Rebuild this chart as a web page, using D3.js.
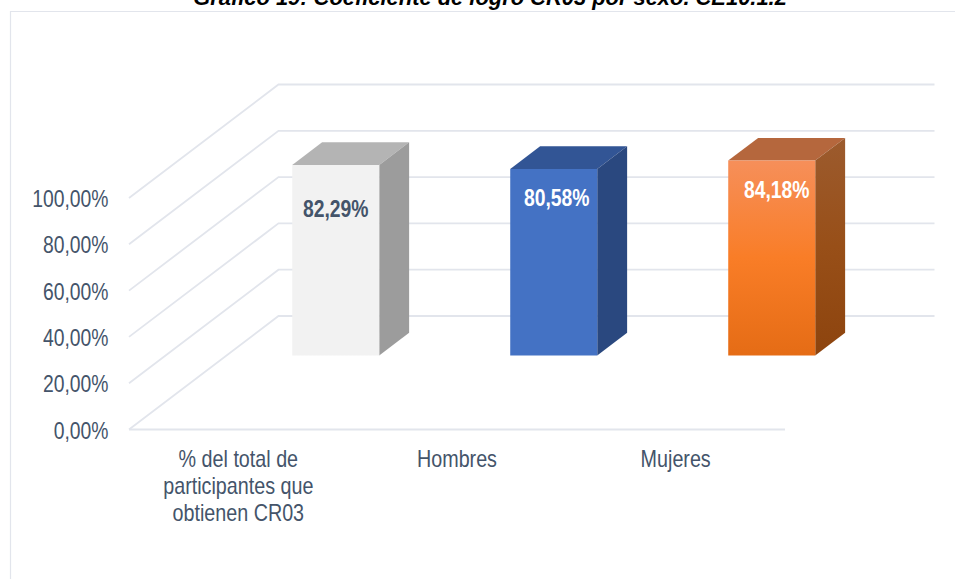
<!DOCTYPE html>
<html><head><meta charset="utf-8">
<script src="https://cdn.jsdelivr.net/npm/d3@7"></script>
<style>html,body{margin:0;padding:0;background:#fff}svg{display:block}</style>
</head><body><svg id="c" width="955" height="579"></svg>
<script>
const titleText = "Gráfico 19: Coeficiente de logro CR03 por sexo. CE10.1.2";
const categories = ["% del total de|participantes que|obtienen CR03", "Hombres", "Mujeres"];
const values = [82.29, 80.58, 84.18];
const valueLabels = ["82,29%", "80,58%", "84,18%"];
const ticks = [0, 20, 40, 60, 80, 100];
const tickLabels = ["0,00%", "20,00%", "40,00%", "60,00%", "80,00%", "100,00%"];
const faceColors = [["#f2f2f2","#f2f2f2","#f2f2f2"],["#4472c4","#4472c4","#4472c4"],["#f68f5a","#f97d27","#e56c15"]];
const sideColors = [["#9c9c9c","#9c9c9c","#9c9c9c"],["#2a487f","#2a487f","#2a487f"],["#9c5b2e","#984f18","#8d440e"]];
const topColors = ["#b4b4b4","#325595","#b5673d"];
const labelColors = ["#44546a","#ffffff","#ffffff"];

const svg = d3.select("#c");
const ink = "#44546a", grid = "#e2e5ec";
const sans = "'Liberation Sans',Arial,sans-serif";

const x = d3.scaleBand().domain(d3.range(categories.length)).range([129, 785]);
const barX = d3.scaleBand().domain(d3.range(categories.length)).range([129.25, 783.25]);
const y = d3.scaleLinear().domain([0, 100]).range([429.5, 198]);
const depthX = 149.5, depthY = -113.5;
const proj = (px, val, d) => [px + depthX * d, y(val) + depthY * d];

const defs = svg.append("defs");
const grad = (id, c) => {
  const g = defs.append("linearGradient").attr("id", id).attr("x1",0).attr("y1",0).attr("x2",0).attr("y2",1);
  c.forEach((col,k)=>g.append("stop").attr("offset",k/(c.length-1)).attr("stop-color",col));
};
faceColors.forEach((c,i)=>grad("f"+i,c));
sideColors.forEach((c,i)=>grad("s"+i,c));

// chart frame
svg.append("path").attr("d","M10.5,579V11.5H955").attr("fill","none").attr("stroke",grid).attr("stroke-width",1.2);

// title (the reference crops it at the top edge)
svg.append("text").attr("x",490).attr("y",5).attr("text-anchor","middle")
  .attr("font-family",sans).attr("font-weight","bold").attr("font-style","italic")
  .attr("font-size",21.9).attr("fill","#000").text(titleText);

// grid
const line = d3.line();
ticks.forEach(t=>{
  const a = proj(x.range()[0], t, 0), b = proj(x.range()[0], t, 1), c = proj(x.range()[1], t, 1);
  svg.append("path").attr("d", line([a,b,c])).attr("fill","none").attr("stroke",grid).attr("stroke-width",1.8);
});
svg.append("path").attr("d", line([proj(x.range()[0],0,0),proj(x.range()[1],0,0)])).attr("fill","none").attr("stroke",grid).attr("stroke-width",1.8);

// y tick labels
svg.append("g").selectAll("text").data(ticks).join("text")
  .attr("transform",t=>`translate(108.5,${y(t)+9}) scale(0.822,1)`).attr("text-anchor","end")
  .attr("font-family",sans).attr("font-size",23.5).attr("fill",ink)
  .text((t,i)=>tickLabels[i]);

// category labels
categories.forEach((c,i)=>{
  const t = svg.append("text").attr("text-anchor","middle").attr("font-family",sans).attr("font-size",23).attr("fill",ink)
    .attr("transform",`translate(${x(i)+x.bandwidth()/2},466.5) scale(0.858,1)`);
  c.split("|").forEach((s,j)=>t.append("tspan").attr("x",0).attr("y",j*27.5).text(s));
});

// bars
const bw = 87, dNear = 0.652, dFar = 0.852;
const labelShift = [[0,51.7],[3,37],[5,37.7]];
values.forEach((v,i)=>{
  const cx = barX(i)+barX.bandwidth()/2;
  const l = cx - bw/2, r = cx + bw/2;
  const P = proj;
  const g = svg.append("g");
  g.append("path").attr("d", line([P(l,v,dNear),P(l,v,dFar),P(r,v,dFar),P(r,v,dNear)])+"Z").attr("fill",topColors[i]);
  g.append("path").attr("d", line([P(r,v,dNear),P(r,v,dFar),P(r,0,dFar),P(r,0,dNear)])+"Z").attr("fill",`url(#s${i})`);
  g.append("path").attr("d", line([P(l,v,dNear),P(r,v,dNear),P(r,0,dNear),P(l,0,dNear)])+"Z").attr("fill",`url(#f${i})`);
  const c = P(cx,v,dNear);
  g.append("text").attr("transform",`translate(${c[0]+labelShift[i][0]},${c[1]+labelShift[i][1]}) scale(0.807,1)`)
    .attr("text-anchor","middle").attr("font-family",sans).attr("font-weight","bold").attr("font-size",24)
    .attr("fill",labelColors[i]).text(valueLabels[i]);
});
</script></body></html>
